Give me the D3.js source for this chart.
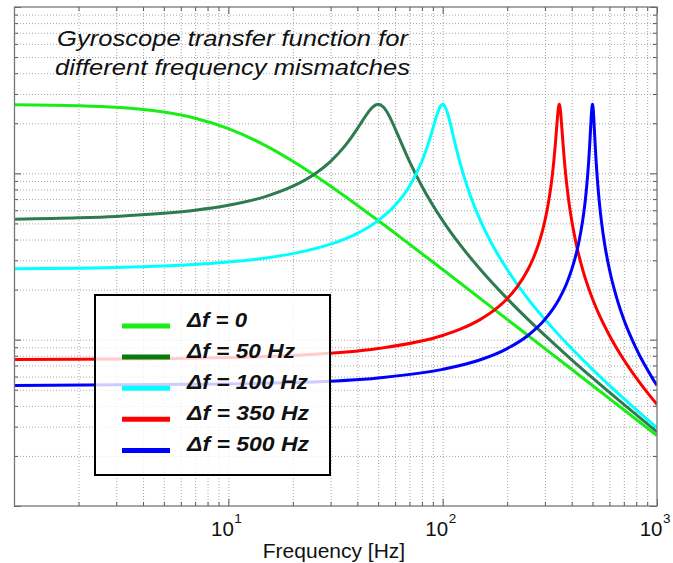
<!DOCTYPE html>
<html>
<head>
<meta charset="utf-8">
<script src="https://cdn.jsdelivr.net/npm/d3@7/dist/d3.min.js"></script>
<style>
  body { margin: 0; background: #fff; }
  svg { display: block; }
</style>
</head>
<body>
<svg id="chart" width="673" height="563"></svg>
<script>
// ---- data: frequency [Hz] and response magnitude for each mismatch ----
const freqDf0 = [1, 2, 3, 5, 7, 10, 15, 20, 30, 50, 70, 100, 200, 300, 500, 700, 1000];
const magDf0  = [0.2588, 0.2552, 0.2495, 0.2335, 0.2144, 0.1857, 0.1462, 0.1181, 0.0837, 0.0520, 0.0375, 0.0264, 0.01324, 0.00884, 0.00530, 0.00379, 0.00265];

const freqDf50 = [1, 2, 3, 5, 7, 10, 15, 20, 25, 30, 35, 40, 42, 45, 47, 50, 53, 55, 58, 60, 70, 80, 100, 120, 150, 200, 250, 300, 400, 500, 700, 1000];
const magDf50  = [0.0530, 0.0540, 0.0551, 0.0575, 0.0600, 0.0642, 0.0727, 0.0837, 0.0982, 0.1181, 0.1462, 0.1857, 0.2046, 0.2335, 0.2495, 0.2600, 0.2495, 0.2335, 0.2046, 0.1857, 0.1181, 0.0837, 0.0520, 0.0375, 0.0264, 0.01764, 0.01324, 0.0106, 0.00757, 0.00589, 0.00408, 0.00279];

const freqDf100 = [1, 2, 3, 5, 7, 10, 15, 20, 30, 40, 50, 60, 70, 80, 85, 90, 95, 97, 100, 103, 105, 110, 115, 120, 130, 150, 170, 200, 250, 300, 400, 500, 700, 1000];
const magDf100  = [0.02665, 0.0269, 0.0272, 0.02776, 0.02834, 0.02928, 0.03098, 0.0329, 0.0375, 0.0436, 0.0520, 0.0642, 0.0837, 0.1181, 0.1462, 0.1857, 0.2335, 0.2495, 0.2600, 0.2495, 0.2335, 0.1857, 0.1462, 0.1181, 0.0837, 0.0520, 0.0375, 0.0264, 0.0176, 0.01324, 0.00884, 0.00663, 0.00442, 0.00295];

const freqDf350 = [1, 2, 5, 10, 20, 50, 100, 120, 150, 180, 200, 220, 250, 265, 280, 290, 300, 310, 320, 325, 330, 335, 340, 345, 347, 350, 353, 355, 360, 365, 370, 375, 380, 390, 400, 420, 450, 500, 550, 600, 700, 800, 900, 1000];
const magDf350  = [0.00760, 0.00762, 0.00768, 0.0078, 0.00803, 0.00884, 0.0106, 0.01152, 0.01324, 0.01557, 0.01764, 0.02034, 0.0264, 0.03098, 0.0375, 0.0436, 0.0520, 0.0642, 0.0837, 0.0982, 0.1181, 0.1462, 0.1857, 0.2335, 0.2495, 0.2600, 0.2495, 0.2335, 0.1857, 0.1462, 0.1181, 0.0982, 0.0837, 0.0642, 0.0520, 0.0375, 0.0264, 0.01764, 0.01324, 0.0106, 0.00757, 0.00589, 0.00482, 0.00408];

const freqDf500 = [1, 10, 20, 50, 100, 150, 200, 250, 300, 350, 380, 400, 420, 430, 450, 460, 470, 475, 480, 485, 490, 495, 497, 500, 503, 505, 510, 515, 520, 525, 530, 540, 550, 570, 580, 600, 650, 700, 750, 800, 850, 900, 950, 1000];
const magDf500  = [0.00531, 0.00541, 0.00552, 0.00589, 0.00663, 0.00757, 0.00884, 0.0106, 0.01324, 0.01764, 0.0220, 0.0264, 0.0329, 0.0375, 0.0520, 0.0642, 0.0837, 0.0982, 0.1181, 0.1462, 0.1857, 0.2335, 0.2495, 0.2600, 0.2495, 0.2335, 0.1857, 0.1462, 0.1181, 0.0982, 0.0837, 0.0642, 0.0520, 0.0375, 0.0329, 0.0264, 0.01764, 0.01324, 0.0106, 0.00884, 0.00757, 0.00663, 0.00589, 0.0053];

const seriesLabels = ["\u0394f = 0", "\u0394f = 50 Hz", "\u0394f = 100 Hz", "\u0394f = 350 Hz", "\u0394f = 500 Hz"];
const seriesFreqs  = [freqDf0, freqDf50, freqDf100, freqDf350, freqDf500];
const seriesMags   = [magDf0, magDf50, magDf100, magDf350, magDf500];

const xTickExponents = [1, 2, 3];
const titleLines = ["Gyroscope transfer function for", "different frequency mismatches"];
const xAxisTitle = "Frequency [Hz]";

// ---- styling ----
const curveColors  = ["#16ee16", "#2e7b50", "#00ffff", "#ff0000", "#0000ff"];
const legendColors = ["#16ee16", "#0a7a0a", "#00ffff", "#ff0000", "#0000ff"];
const legendTextWidths = [60, 108, 121, 122, 122];

const plotL = 14, plotR = 657, plotT = 7, plotB = 506;

const svg = d3.select("#chart");

const x = d3.scaleLog().domain([1, 1000]).range([plotL, plotR]);
const y = d3.scaleLog().domain([1e-3, 1]).range([plotB, plotT]);

// grid positions: every 1..9 multiple of each decade
const xGrid = [];
for (let k = 0; k < 3; k++) for (let m = 1; m <= 9; m++) xGrid.push(m * Math.pow(10, k));
xGrid.push(1000);
const yGrid = [];
for (let k = -3; k < 0; k++) for (let m = 1; m <= 9; m++) yGrid.push(m * Math.pow(10, k));
yGrid.push(1);
const isMajor = v => Math.abs(Math.log10(v) - Math.round(Math.log10(v))) < 1e-9;

// dotted grid
function styleGrid(g) {
  g.select(".domain").remove();
  g.selectAll(".tick line")
    .attr("stroke", "#a6a6a6")
    .attr("stroke-width", 1)
    .attr("stroke-dasharray", "1,2");
}
svg.append("g")
  .attr("transform", `translate(0,${plotB})`)
  .call(d3.axisBottom(x).tickValues(xGrid.filter(v => x(v) > plotL + 1 && x(v) < plotR - 1)).tickSize(-(plotB - plotT)).tickFormat(""))
  .call(styleGrid);
svg.append("g")
  .attr("transform", `translate(${plotL},0)`)
  .call(d3.axisLeft(y).tickValues(yGrid.filter(v => y(v) > plotT + 1 && y(v) < plotB - 1)).tickSize(-(plotR - plotL)).tickFormat(""))
  .call(styleGrid);

// inner tick marks on all four sides
function styleTicks(g) {
  g.select(".domain").remove();
  g.selectAll(".tick line").attr("stroke", "#555").attr("stroke-width", 1);
}
const tickSets = [
  [d3.axisBottom, x, plotB, true],
  [d3.axisTop, x, plotT, true],
  [d3.axisLeft, y, plotL, false],
  [d3.axisRight, y, plotR, false]
];
tickSets.forEach(([axisFn, sc, pos, horiz]) => {
  const vals = horiz ? xGrid : yGrid;
  [[vals.filter(v => !isMajor(v)), 4], [vals.filter(isMajor), 7]].forEach(([tv, len]) => {
    svg.append("g")
      .attr("transform", horiz ? `translate(0,${pos})` : `translate(${pos},0)`)
      .call(axisFn(sc).tickValues(tv).tickSize(-len).tickFormat(""))
      .call(styleTicks);
  });
});

// curves
svg.append("clipPath").attr("id", "plotClip")
  .append("rect").attr("x", plotL).attr("y", plotT).attr("width", plotR - plotL).attr("height", plotB - plotT);

const line = d3.line()
  .x(d => x(d[0]))
  .y(d => y(d[1]))
  .curve(d3.curveMonotoneX);

const curves = svg.append("g").attr("clip-path", "url(#plotClip)");
seriesFreqs.forEach((fs, i) => {
  const pts = fs.map((f, j) => [f, seriesMags[i][j]]);
  curves.append("path")
    .datum(pts)
    .attr("d", line)
    .attr("fill", "none")
    .attr("stroke", curveColors[i])
    .attr("stroke-width", 3)
    .attr("stroke-linejoin", "round");
});

// plot frame
svg.append("rect")
  .attr("x", plotL + 0.5).attr("y", plotT)
  .attr("width", plotR - plotL - 0.5).attr("height", plotB - plotT)
  .attr("fill", "none")
  .attr("stroke", "#777")
  .attr("stroke-width", 1.3);

// x tick labels: 10 with a superscript exponent
xTickExponents.forEach(e => {
  const px = x(Math.pow(10, e));
  svg.append("text")
    .attr("x", px + 5.5).attr("y", 536)
    .attr("text-anchor", "end")
    .attr("font-family", "'Liberation Sans', Arial, sans-serif")
    .attr("font-size", 20.5)
    .attr("fill", "#111")
    .text("10");
  svg.append("text")
    .attr("x", px + 6).attr("y", 523)
    .attr("font-family", "'Liberation Sans', Arial, sans-serif")
    .attr("font-size", 13.5)
    .attr("fill", "#111")
    .text(String(e));
});

// x axis title
svg.append("text")
  .attr("x", 334).attr("y", 558)
  .attr("text-anchor", "middle")
  .attr("font-family", "'Liberation Sans', Arial, sans-serif")
  .attr("font-size", 21)
  .attr("fill", "#111")
  .text(xAxisTitle);

// chart title (italic, two lines)
titleLines.forEach((t, i) => {
  svg.append("text")
    .attr("x", i === 0 ? 57 : 55)
    .attr("y", 46 + i * 29)
    .attr("font-family", "'Liberation Sans', Arial, sans-serif")
    .attr("font-style", "italic")
    .attr("font-size", 22)
    .attr("textLength", i === 0 ? 351 : 355)
    .attr("lengthAdjust", "spacingAndGlyphs")
    .attr("fill", "#111")
    .text(t);
});

// legend
const legend = svg.append("g");
legend.append("rect")
  .attr("x", 95).attr("y", 295)
  .attr("width", 235).attr("height", 180)
  .attr("fill", "#fff").attr("fill-opacity", 0.8)
  .attr("stroke", "#000").attr("stroke-width", 2);
seriesLabels.forEach((lab, i) => {
  const ly = 326 + i * 31.1;
  legend.append("line")
    .attr("x1", 122).attr("x2", 170)
    .attr("y1", ly).attr("y2", ly)
    .attr("stroke", legendColors[i])
    .attr("stroke-width", 5);
  legend.append("text")
    .attr("x", 187).attr("y", ly + 0.5)
    .attr("font-family", "'Liberation Sans', Arial, sans-serif")
    .attr("font-style", "italic")
    .attr("font-weight", "bold")
    .attr("font-size", 19.5)
    .attr("textLength", legendTextWidths[i])
    .attr("lengthAdjust", "spacingAndGlyphs")
    .attr("fill", "#111")
    .text(lab);
});
</script>
</body>
</html>
